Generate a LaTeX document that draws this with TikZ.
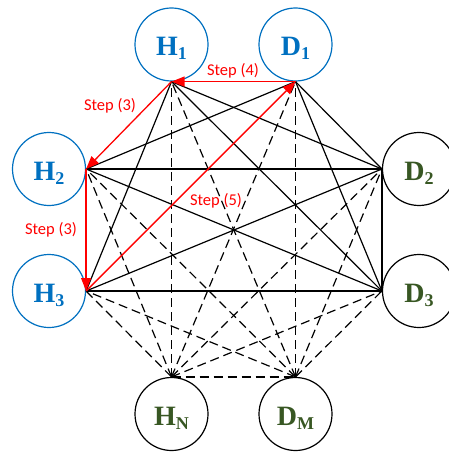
\documentclass[tikz,border=0pt]{standalone}
\usepackage{fontspec}
\setmainfont{Liberation Serif}
\newfontfamily\stepfont{Carlito}
\usetikzlibrary{arrows.meta}
\definecolor{hblue}{HTML}{0070C0}
\definecolor{dgreen}{HTML}{385723}
\definecolor{stepred}{HTML}{FF0000}
\newcommand{\nlbl}[2]{{\fontsize{28}{28}\selectfont\bfseries #1\raisebox{-4pt}{\smash{\fontsize{18}{18}\selectfont #2}}}}
\begin{document}
\begin{tikzpicture}[x=1pt,y=-1pt,
  basenode/.style={circle, line width=1.2pt, minimum size=73pt, inner sep=0pt, text height=22.5pt, text depth=0pt},
  hnode/.style={basenode, draw=hblue, text=hblue},
  dnode/.style={basenode, draw=black, text=dgreen},
  solidedge/.style={line width=1.2pt, draw=black},
  dashedge/.style={line width=1.2pt, draw=black, dash pattern=on 9pt off 5pt},
  redarrow/.style={line width=1.3pt, draw=stepred, -{Triangle[length=13pt,width=10pt]}},
  steplabel/.style={text=stepred, font=\stepfont\fontsize{16.5}{18}\selectfont, inner sep=0pt}]
\useasboundingbox (0,0) rectangle (448,454);

\node[hnode] (H1) at (171.5,44.5) {\nlbl{H}{1}};
\node[hnode] (D1) at (295.5,44.5) {\nlbl{D}{1}};
\node[hnode] (H2) at (49,169) {\nlbl{H}{2}};
\node[dnode] (D2) at (419,169) {\nlbl{D}{2}};
\node[hnode] (H3) at (49,291) {\nlbl{H}{3}};
\node[dnode] (D3) at (419,291) {\nlbl{D}{3}};
\node[dnode] (HN) at (171.5,414) {\nlbl{H}{N}};
\node[dnode] (DM) at (295.5,414) {\nlbl{D}{M}};

% dashed edges
\foreach \a in {H1.south,D1.south,H2.east,D2.west,H3.east,D3.west,DM.north}
  \draw[dashedge] (HN.north) -- (\a);
\foreach \a in {H1.south,D1.south,H2.east,D2.west,H3.east,D3.west}
  \draw[dashedge] (DM.north) -- (\a);

% solid edges
\draw[solidedge] (H1.south) -- (D2.west);
\draw[solidedge] (H1.south) -- (H3.east);
\draw[solidedge] (H1.south) -- (D3.west);
\draw[solidedge] (D1.south) -- (H2.east);
\draw[solidedge] (D1.south) -- (D2.west);
\draw[solidedge] (D1.south) -- (D3.west);
\draw[solidedge] (H2.east) -- (D2.west);
\draw[solidedge] (H2.east) -- (D3.west);
\draw[solidedge] (H3.east) -- (D2.west);
\draw[solidedge] (H3.east) -- (D3.west);
\draw[solidedge] (D2.west) -- (D3.west);

% red steps
\draw[redarrow] (D1.south) -- (H1.south);
\draw[redarrow] (H1.south) -- (H2.east);
\draw[redarrow] (H2.east) -- (H3.east);
\draw[redarrow] (H3.east) -- (D1.south);

\node[steplabel] (s4) at (233,70.5) {Step (4)};
\node[steplabel] (s3a) at (110,106) {Step (3)};
\node[steplabel] (s3b) at (51,230) {Step (3)};
\node[steplabel] (s5) at (216,201) {Step (5)};
\end{tikzpicture}
\end{document}
